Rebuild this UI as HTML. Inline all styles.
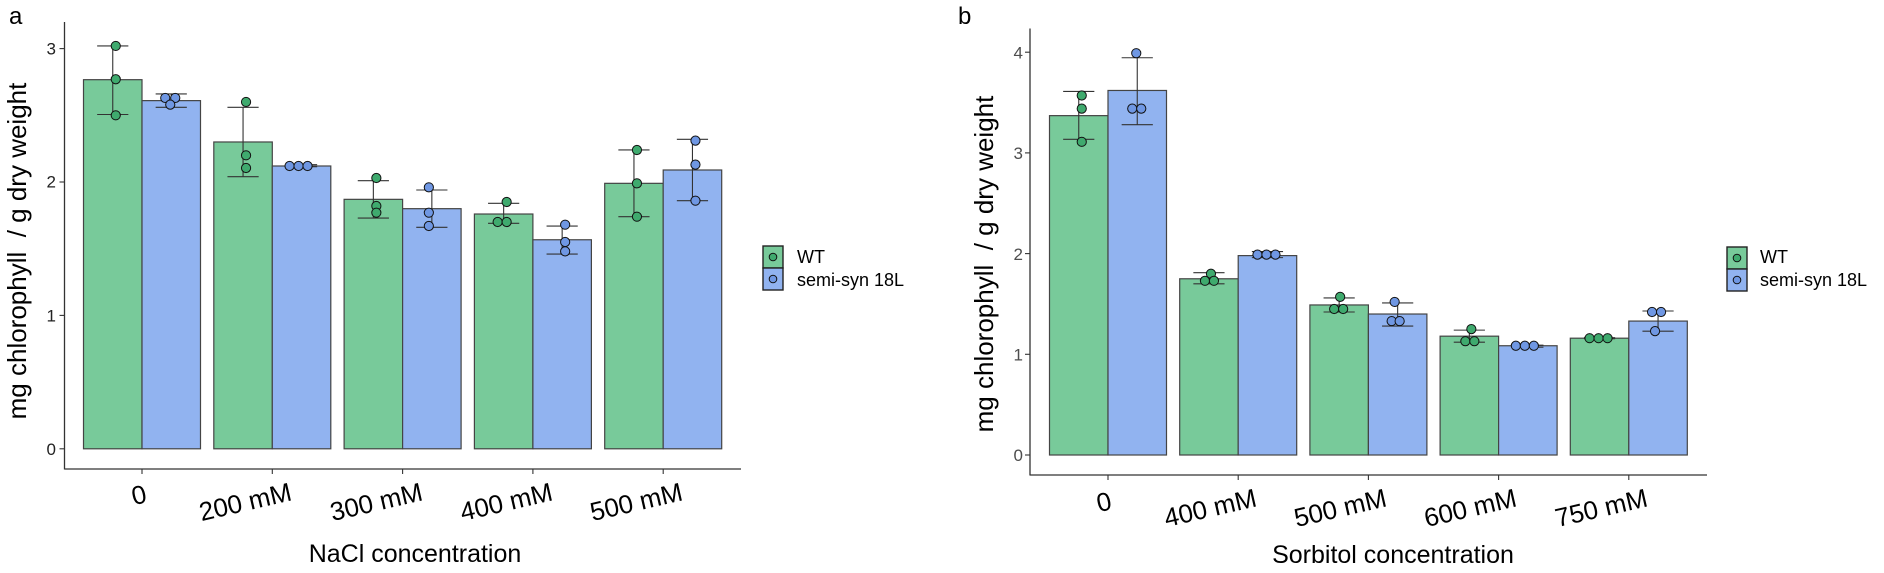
<!DOCTYPE html>
<html><head><meta charset="utf-8"><style>
html,body{margin:0;padding:0;background:#fff;}
svg{display:block;font-family:"Liberation Sans",Arial,sans-serif;}
</style></head><body>
<svg id="s" width="1884" height="573" viewBox="0 0 1884 573" xmlns="http://www.w3.org/2000/svg">
<rect width="1884" height="573" fill="#fff"/>
<g id="plot"></g>
<!-- panel a text -->
<text x="9" y="24" font-size="24">a</text>
<g font-size="17" fill="#222" text-anchor="end">
<text x="56" y="454.8">0</text><text x="56" y="321.4">1</text><text x="56" y="187.7">2</text><text x="56" y="54.6">3</text>
</g>
<text transform="translate(26,251) rotate(-90)" font-size="26" text-anchor="middle">mg chlorophyll&#160; / g dry weight</text>
<g font-size="26" text-anchor="end">
<text transform="translate(148,502) rotate(-13)">0</text>
<text transform="translate(293,500) rotate(-13)">200 mM</text>
<text transform="translate(424,500) rotate(-13)">300 mM</text>
<text transform="translate(554,500) rotate(-13)">400 mM</text>
<text transform="translate(684,500) rotate(-13)">500 mM</text>
</g>
<text x="415" y="562" font-size="25" text-anchor="middle">NaCl concentration</text>
<text x="797" y="263" font-size="18">WT</text>
<text x="797" y="286" font-size="18">semi-syn 18L</text>
<!-- panel b text -->
<text x="958" y="24" font-size="24">b</text>
<g font-size="17" fill="#4d4d4d" text-anchor="end">
<text x="1023" y="461">0</text><text x="1023" y="360.5">1</text><text x="1023" y="260">2</text><text x="1023" y="158.8">3</text><text x="1023" y="58.3">4</text>
</g>
<text transform="translate(993,264) rotate(-90)" font-size="26" text-anchor="middle">mg chlorophyll&#160; / g dry weight</text>
<g font-size="26" text-anchor="end">
<text transform="translate(1113,509) rotate(-13)">0</text>
<text transform="translate(1258,506) rotate(-13)">400 mM</text>
<text transform="translate(1388,506) rotate(-13)">500 mM</text>
<text transform="translate(1518,506) rotate(-13)">600 mM</text>
<text transform="translate(1649,506) rotate(-13)">750 mM</text>
</g>
<text x="1393" y="563" font-size="25" text-anchor="middle">Sorbitol concentration</text>
<text x="1760" y="263" font-size="18">WT</text>
<text x="1760" y="286" font-size="18">semi-syn 18L</text>
</svg>
<script>
var NS="http://www.w3.org/2000/svg",g=document.getElementById("plot");
function el(t,a){var e=document.createElementNS(NS,t);for(var k in a)e.setAttribute(k,a[k]);g.appendChild(e);return e;}
var GF="#78CA9A",BF="#91B3F0",GP="#3FAA6E",BP="#6F97E3";
function panel(o){
  o.d.forEach(function(c,i){
    var cx=o.x0+i*o.sp;
    [0,1].forEach(function(s){
      var v=c[s],bx=cx-58.5+s*58.5,top=o.y0-v.m*o.u;
      el("rect",{x:bx,y:top,width:58.5,height:o.y0-top,fill:s?BF:GF,stroke:"#444","stroke-width":1.2});
    });
  });
  o.d.forEach(function(c,i){
    var cx=o.x0+i*o.sp;
    [0,1].forEach(function(s){
      var v=c[s],mx=cx-29.25+s*58.5,hi=o.y0-v.e[0]*o.u,lo=o.y0-v.e[1]*o.u;
      el("line",{x1:mx,x2:mx,y1:hi,y2:lo,stroke:"#333","stroke-width":1.1});
      el("line",{x1:mx-15.6,x2:mx+15.6,y1:hi,y2:hi,stroke:"#333","stroke-width":1.1});
      el("line",{x1:mx-15.6,x2:mx+15.6,y1:lo,y2:lo,stroke:"#333","stroke-width":1.1});
      v.p.forEach(function(p){
        el("circle",{cx:mx+p[1],cy:o.y0-p[0]*o.u,r:4.6,fill:s?BP:GP,stroke:"#111","stroke-width":1});
      });
    });
  });
  el("line",{x1:o.ax,x2:o.ax,y1:o.at,y2:o.ab+0.5,stroke:"#333","stroke-width":1.3});
  el("line",{x1:o.ax,x2:o.ae,y1:o.ab,y2:o.ab,stroke:"#333","stroke-width":1.3});
  o.t.forEach(function(v){var y=o.y0-v*o.u;el("line",{x1:o.ax-5,x2:o.ax,y1:y,y2:y,stroke:"#333","stroke-width":1.1});});
  o.d.forEach(function(c,i){var x=o.x0+i*o.sp;el("line",{x1:x,x2:x,y1:o.ab,y2:o.ab+5,stroke:"#333","stroke-width":1.1});});
  el("rect",{x:o.lx,y:o.ly,width:20,height:22,fill:GF,stroke:"#222","stroke-width":1.4});
  el("rect",{x:o.lx,y:o.ly+22,width:20,height:22,fill:BF,stroke:"#222","stroke-width":1.4});
  el("circle",{cx:o.lx+10,cy:o.ly+11,r:3.8,fill:GP,stroke:"#111","stroke-width":1});
  el("circle",{cx:o.lx+10,cy:o.ly+33,r:3.8,fill:BP,stroke:"#111","stroke-width":1});
}
panel({x0:142,sp:130.3,y0:448.8,u:133.4,ax:64.5,at:22,ab:469,ae:741,t:[0,1,2,3],lx:763,ly:246,
d:[
[{m:2.767,e:[3.02,2.506],p:[[3.02,3],[2.77,3],[2.5,3]]},{m:2.61,e:[2.66,2.56],p:[[2.63,-6],[2.63,4],[2.58,-1]]}],
[{m:2.30,e:[2.56,2.04],p:[[2.6,3],[2.2,3],[2.105,3]]},{m:2.12,e:[2.13,2.115],p:[[2.12,-12],[2.12,-3],[2.12,6]]}],
[{m:1.87,e:[2.01,1.73],p:[[2.03,3],[1.82,3],[1.77,3]]},{m:1.80,e:[1.94,1.66],p:[[1.96,-3],[1.77,-3],[1.67,-3]]}],
[{m:1.76,e:[1.84,1.69],p:[[1.85,3],[1.70,-6],[1.70,3]]},{m:1.567,e:[1.67,1.46],p:[[1.68,3],[1.55,3],[1.48,3]]}],
[{m:1.99,e:[2.24,1.74],p:[[2.24,3],[1.99,3],[1.74,3]]},{m:2.09,e:[2.32,1.86],p:[[2.31,3],[2.13,3],[1.86,3]]}]
]});
panel({x0:1108,sp:130.2,y0:455,u:100.7,ax:1030,at:28.5,ab:475,ae:1707,t:[0,1,2,3,4],lx:1727,ly:247,
d:[
[{m:3.37,e:[3.61,3.135],p:[[3.57,3],[3.44,3],[3.11,3]]},{m:3.62,e:[3.945,3.28],p:[[3.99,-1],[3.44,-5],[3.44,4]]}],
[{m:1.75,e:[1.81,1.70],p:[[1.80,2],[1.73,-4],[1.73,5]]},{m:1.98,e:[2.02,1.96],p:[[1.99,-10],[1.99,-1],[1.99,8]]}],
[{m:1.49,e:[1.56,1.42],p:[[1.57,1],[1.45,-5],[1.45,4]]},{m:1.40,e:[1.51,1.28],p:[[1.52,-3],[1.33,-6],[1.33,2]]}],
[{m:1.18,e:[1.24,1.12],p:[[1.25,2],[1.13,-4],[1.13,5]]},{m:1.085,e:[1.09,1.07],p:[[1.085,-12],[1.085,-3],[1.085,6]]}],
[{m:1.16,e:[1.165,1.155],p:[[1.16,-10],[1.16,-1],[1.16,8]]},{m:1.33,e:[1.43,1.23],p:[[1.42,-6],[1.42,3],[1.23,-3]]}]
]});
</script>
</body></html>
